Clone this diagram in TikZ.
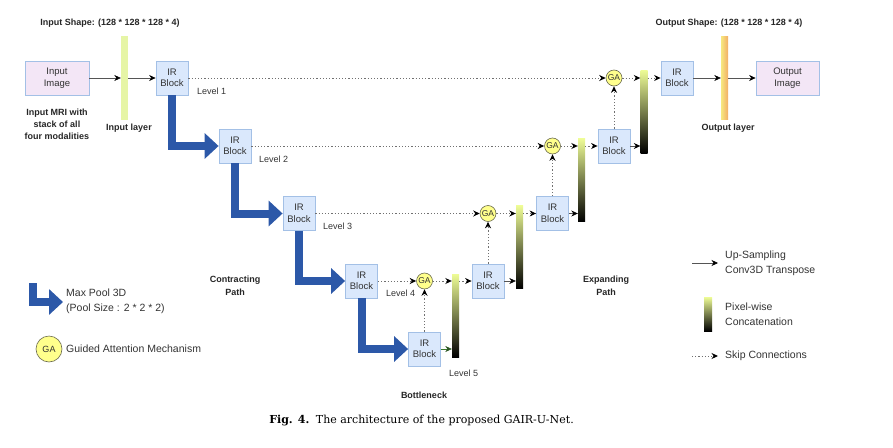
\documentclass[tikz,border=0pt]{standalone}
\usepackage{fontspec}
\setmainfont{Liberation Sans}
\newfontfamily\capfont{DejaVu Serif}
\usetikzlibrary{arrows.meta,shadings}
\definecolor{irfill}{HTML}{DAE8FC}
\definecolor{irborder}{HTML}{A3C0E6}
\definecolor{iofill}{HTML}{F3E6F6}
\definecolor{gafill}{HTML}{FFFF8C}
\definecolor{gaborder}{HTML}{6B6B50}
\definecolor{cattop}{HTML}{EEFC96}
\definecolor{inlayer}{HTML}{E6F5A6}
\definecolor{outleft}{HTML}{F7E880}
\definecolor{outright}{HTML}{F2AE66}
\definecolor{poolblue}{HTML}{2C58A8}
\definecolor{txt}{HTML}{333333}
\definecolor{dotgray}{HTML}{707070}
\definecolor{arrgray}{HTML}{555555}
\definecolor{arrgreen}{HTML}{3C7A2E}
\begin{document}
\begin{tikzpicture}[x=1pt,y=-1pt,
  irblock/.style={draw=irborder, fill=irfill, line width=0.8pt, minimum width=32pt, minimum height=34pt, inner sep=0pt, align=center, text=txt, font=\fontsize{9.5}{11.5}\selectfont},
  iobox/.style={draw=irborder, fill=iofill, line width=0.8pt, minimum width=64pt, minimum height=34pt, inner sep=0pt, align=center, text=txt, font=\fontsize{9.5}{11.5}\selectfont},
  ganode/.style={circle, draw=gaborder, fill=gafill, line width=0.6pt, minimum size=16pt, inner sep=0pt, text=txt, font=\fontsize{8.5}{9}\selectfont},
  catbar/.style={rectangle, draw=none, minimum width=7pt, minimum height=83pt, inner sep=0pt, top color=cattop, bottom color=black},
  solidarr/.style={draw=arrgray, line width=0.6pt, -{Stealth[length=6.5pt,width=6pt,black]}},
  skiparr/.style={draw=dotgray, line width=1pt, dash pattern=on 1.2pt off 2pt, -{Stealth[length=6.5pt,width=6pt,black]}},
  poolarr/.style={draw=poolblue, line width=8pt, line join=miter, -{Triangle[length=14pt,width=25pt]}},
  lvl/.style={anchor=west, inner sep=0pt, text=txt, font=\fontsize{9}{10}\selectfont},
  boldlbl/.style={inner sep=0pt, align=center, text=black!85, font=\fontsize{9}{12}\selectfont\bfseries},
  legtxt/.style={anchor=west, inner sep=0pt, align=left, text=txt, font=\fontsize{10.5}{15}\selectfont}
]
\useasboundingbox (0,0) rectangle (893,447);

% input / output
\node[iobox] (inimg) at (57,78) {Input\\Image};
\node[rectangle, draw=none, fill=inlayer, minimum width=7pt, minimum height=84pt, inner sep=0pt] (inlay) at (124.5,78) {};
\node[irblock] (b1) at (172,78) {IR\\Block};
\node[irblock] (b2) at (235,146) {IR\\Block};
\node[irblock] (b3) at (299,213.5) {IR\\Block};
\node[irblock] (b4) at (361.5,281) {IR\\Block};
\node[irblock] (b5) at (424.5,349) {IR\\Block};
\node[irblock] (u4) at (488,281) {IR\\Block};
\node[irblock] (u3) at (552.5,213.5) {IR\\Block};
\node[irblock] (u2) at (614,146) {IR\\Block};
\node[irblock] (u1) at (677,78) {IR\\Block};
\node[rectangle, draw=none, left color=outleft, right color=outright, minimum width=7pt, minimum height=83pt, inner sep=0pt] (outlay) at (724.5,78) {};
\node[iobox, minimum width=63pt] (outimg) at (787.5,78) {Output\\Image};

% GA nodes
\node[ganode] (g4) at (b5 |- b4) {GA};
\node[ganode] (g3) at (u4 |- b3) {GA};
\node[ganode] (g2) at (u3 |- b2) {GA};
\node[ganode] (g1) at (u2 |- b1) {GA};

% concatenation bars
\node[catbar] (c4) at (455.5,315.5) {};
\node[catbar] (c3) at (519.5,247) {};
\node[catbar] (c2) at (581.5,180) {};
\node[catbar] (c1) at (644,111.5) {};

% level labels
\node[lvl] (l1) at (197,91) {Level 1};
\node[lvl] (l2) at (259,159) {Level 2};
\node[lvl] (l3) at (323,226) {Level 3};
\node[lvl] (l4) at (386,293) {Level 4};
\node[lvl] (l5) at (449,373) {Level 5};

% pool arrows
\draw[poolarr] (b1.south) |- (b2.west);
\draw[poolarr] (b2.south) |- (b3.west);
\draw[poolarr] (b3.south) |- (b4.west);
\draw[poolarr] (b4.south) |- (b5.west);

% input/output arrows
\draw[solidarr] (inimg.east) -- (inlay.west |- inimg);
\draw[solidarr] (inlay.east |- b1) -- (b1.west);
\draw[solidarr] (u1.east) -- (outlay.west |- u1);
\draw[solidarr] (outlay.east |- outimg) -- (outimg.west);

% skip connections
\draw[skiparr] (b1.east) -- (g1.west);
\draw[skiparr] (b2.east) -- (g2.west);
\draw[skiparr] (b3.east) -- (g3.west);
\draw[skiparr] (b4.east) -- (g4.west);
\draw[skiparr] (b5.north) -- (g4.south);
\draw[skiparr] (u4.north) -- (g3.south);
\draw[skiparr] (u3.north) -- (g2.south);
\draw[skiparr] (u2.north) -- (g1.south);
\draw[skiparr] (g4.east) -- (c4.west |- g4);
\draw[skiparr] (g3.east) -- (c3.west |- g3);
\draw[skiparr] (g2.east) -- (c2.west |- g2);
\draw[skiparr] (g1.east) -- (c1.west |- g1);
\draw[skiparr] (c4.east |- u4) -- (u4.west);
\draw[skiparr] (c3.east |- u3) -- (u3.west);
\draw[skiparr] (c2.east |- u2) -- (u2.west);
\draw[skiparr] (c1.east |- u1) -- (u1.west);

% up-sampling arrows
\draw[solidarr, draw=arrgreen, -{Stealth[length=6.5pt,width=6pt,arrgreen!70!black]}] (b5.east) -- (c4.west |- b5);
\draw[solidarr] (u4.east) -- (c3.west |- u4);
\draw[solidarr] (u3.east) -- (c2.west |- u3);
\draw[solidarr] (u2.east) -- (c1.west |- u2);

% text labels
\node[boldlbl] (inshape) at (110,23) {Input Shape: (128 * 128 * 128 * 4)};
\node[boldlbl] (outshape) at (729,23) {Output Shape: (128 * 128 * 128 * 4)};
\node[boldlbl] (inmri) at (57,124) {Input MRI with\\stack of all\\four modalities};
\node[boldlbl] (inlaylbl) at (129,128) {Input layer};
\node[boldlbl] (outlaylbl) at (728,128) {Output layer};
\node[boldlbl, font=\fontsize{9}{13}\selectfont\bfseries] (contr) at (235,286) {Contracting\\Path};
\node[boldlbl, font=\fontsize{9}{13}\selectfont\bfseries] (expan) at (606,286) {Expanding\\Path};
\node[boldlbl] (bottle) at (424,395) {Bottleneck};

% left legend
\coordinate (lpA) at (33,283);
\coordinate (lpB) at (63,302);
\draw[poolarr] (lpA) |- (lpB);
\node[legtxt] (lptxt) at (66,301) {Max Pool 3D\\(Pool Size : 2 * 2 * 2)};
\node[ganode, minimum size=26pt, font=\fontsize{9}{10}\selectfont] (lga) at (49,349) {GA};
\node[legtxt] (lgatxt) at (66,349) {Guided Attention Mechanism};

% right legend
\coordinate (ruA) at (692,263);
\coordinate (ruB) at (718,263);
\draw[solidarr] (ruA) -- (ruB);
\node[legtxt] (rutxt) at (725,263.5) {Up-Sampling\\Conv3D Transpose};
\node[catbar, minimum width=8pt, minimum height=34pt] (rcat) at (708,314) {};
\node[legtxt] (rcattxt) at (725,314) {Pixel-wise\\Concatenation};
\coordinate (rsA) at (692,356);
\coordinate (rsB) at (718,356);
\draw[skiparr] (rsA) -- (rsB);
\node[legtxt] (rstxt) at (725,356) {Skip Connections};

% caption
\node[inner sep=0pt, font=\capfont\fontsize{11}{13}\selectfont] (cap) at (421.5,421) {\textbf{Fig. 4.}\hspace{0.6em}The architecture of the proposed GAIR-U-Net.};
\end{tikzpicture}
\end{document}
